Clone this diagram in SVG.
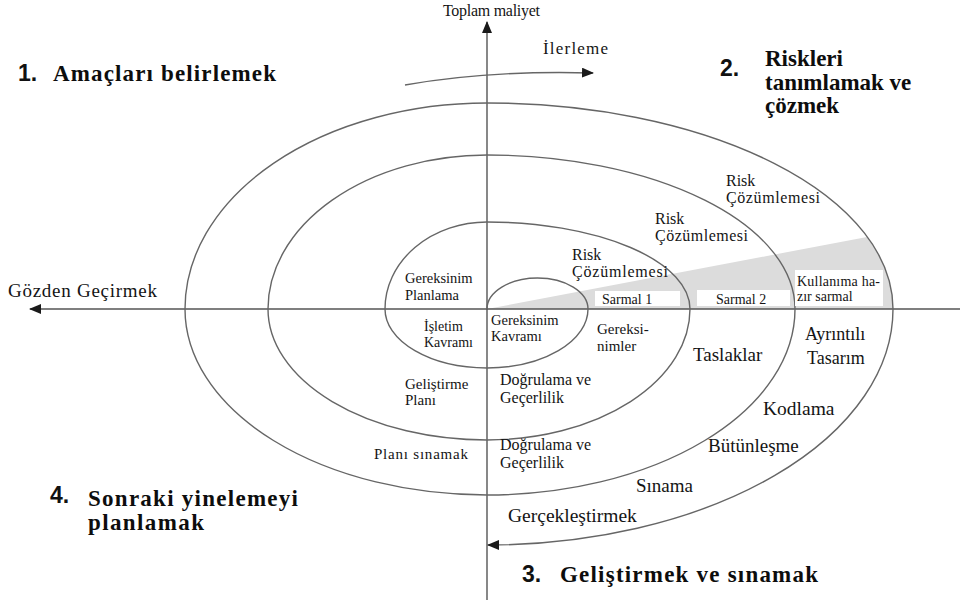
<svg xmlns="http://www.w3.org/2000/svg" width="961" height="605" viewBox="0 0 961 605">
  <defs>
    <marker id="tri" viewBox="0 0 12 10" refX="11" refY="5" markerWidth="12" markerHeight="10" markerUnits="userSpaceOnUse" orient="auto">
      <path d="M0,0 L12,5 L0,10 Z" fill="#1a1a1a"/>
    </marker>
    <style>
      text { font-family: "Liberation Serif", "Times New Roman", serif; fill: #141414; }
      .ax { stroke: #555; stroke-width: 1.4; fill: none; }
      .sp { stroke: #666; stroke-width: 1.4; fill: none; }
      .head { font-weight: bold; font-size: 23px; fill: #0d0d0d; }
      .num { font-family: "Liberation Sans", Arial, sans-serif; font-weight: bold; font-size: 23px; fill: #111; }
      .box { fill: #fff; }
    </style>
  </defs>
  <rect width="961" height="605" fill="#fff"/>

  <!-- shaded release wedge -->
  <path d="M487,309 L867,237 A406,206 0 0,1 893,309 Z" fill="#dcdcdc"/>

  <!-- axes -->
  <g id="axes">
    <line class="ax" x1="487" y1="600" x2="487" y2="22" marker-end="url(#tri)"/>
    <line class="ax" x1="960" y1="309" x2="30" y2="309" marker-end="url(#tri)"/>
  </g>

  <!-- spiral and progress arrow -->
  <g id="connectors">
    <path class="sp" d="M487,309 A50.5,31 0 0,1 588,309
      A101,59 0 0,1 487,368
      A102,59 0 0,1 385,309
      A102,87 0 0,1 487,222
      A203,87 0 0,1 690,309
      A203,131 0 0,1 487,440
      A219,131 0 0,1 268,309
      A219,154 0 0,1 487,155
      A308,154 0 0,1 795,309
      A308,186 0 0,1 487,495
      A302,186 0 0,1 185,309
      A302,206 0 0,1 487,103
      A406,206 0 0,1 893,309
      A406,236 0 0,1 488,545" marker-end="url(#tri)"/>
    <path class="sp" d="M405,85 Q490,70 593,73" marker-end="url(#tri)"/>
  </g>

  <!-- spiral labels on the wedge -->
  <g id="spiral1">
    <rect class="box" x="595" y="291" width="85" height="15"/>
    <text x="602" y="304" font-size="14">Sarmal 1</text>
  </g>
  <g id="spiral2">
    <rect class="box" x="697" y="290" width="93" height="16"/>
    <text x="716" y="304" font-size="14">Sarmal 2</text>
  </g>
  <g id="release">
    <rect class="box" x="795" y="270" width="88" height="36"/>
    <text x="797" y="286" font-size="14" textLength="83">Kullanıma ha-</text>
    <text x="797" y="301" font-size="14">zır sarmal</text>
  </g>

  <!-- axis titles -->
  <g id="axis-labels">
    <text x="443" y="16" font-size="16" textLength="97">Toplam maliyet</text>
    <text x="543" y="54" font-size="17" textLength="65">İlerleme</text>
    <text x="8" y="297" font-size="19" textLength="149">Gözden Geçirmek</text>
  </g>

  <!-- quadrant titles -->
  <g id="q1">
    <text class="num" x="18" y="81">1.</text>
    <text class="head" x="53" y="81" textLength="223">Amaçları belirlemek</text>
  </g>
  <g id="q2">
    <text class="num" x="720" y="76">2.</text>
    <text class="head" x="765" y="66" font-size="21">Riskleri</text>
    <text class="head" x="765" y="90" font-size="21">tanımlamak ve</text>
    <text class="head" x="765" y="113" font-size="21">çözmek</text>
  </g>
  <g id="q3">
    <text class="num" x="522" y="582">3.</text>
    <text class="head" x="560" y="582" textLength="258">Geliştirmek ve sınamak</text>
  </g>
  <g id="q4">
    <text class="num" x="50" y="503">4.</text>
    <text class="head" x="88" y="506" textLength="210">Sonraki yinelemeyi</text>
    <text class="head" x="88" y="530" textLength="116">planlamak</text>
  </g>

  <!-- phase labels -->
  <g id="risk1" font-size="16"><text x="572" y="260">Risk</text><text x="572" y="277" textLength="96">Çözümlemesi</text></g>
  <g id="risk2" font-size="16"><text x="655" y="224">Risk</text><text x="655" y="241" textLength="93">Çözümlemesi</text></g>
  <g id="risk3" font-size="16"><text x="726" y="186">Risk</text><text x="726" y="203" textLength="94">Çözümlemesi</text></g>
  <g id="req-plan" font-size="14.5"><text x="405" y="283">Gereksinim</text><text x="405" y="300">Planlama</text></g>
  <g id="ops-concept" font-size="14"><text x="424" y="331">İşletim</text><text x="424" y="347">Kavramı</text></g>
  <g id="req-concept" font-size="14.5"><text x="491" y="325">Gereksinim</text><text x="491" y="341">Kavramı</text></g>
  <g id="requirements" font-size="15"><text x="597" y="334">Gereksi-</text><text x="597" y="351">nimler</text></g>
  <g id="drafts" font-size="19"><text x="693" y="361">Taslaklar</text></g>
  <g id="detail" font-size="18"><text x="805" y="340">Ayrıntılı</text><text x="807" y="364">Tasarım</text></g>
  <g id="dev-plan" font-size="15"><text x="405" y="389">Geliştirme</text><text x="405" y="405">Planı</text></g>
  <g id="vv1" font-size="16"><text x="500" y="385">Doğrulama ve</text><text x="500" y="403">Geçerlilik</text></g>
  <g id="coding" font-size="19.5"><text x="763" y="415">Kodlama</text></g>
  <g id="test-plan" font-size="15"><text x="374" y="459" textLength="94">Planı sınamak</text></g>
  <g id="vv2" font-size="16"><text x="500" y="450">Doğrulama ve</text><text x="500" y="468">Geçerlilik</text></g>
  <g id="integration" font-size="19"><text x="708" y="452">Bütünleşme</text></g>
  <g id="testing" font-size="19"><text x="636" y="492">Sınama</text></g>
  <g id="implementation" font-size="19.5"><text x="508" y="522">Gerçekleştirmek</text></g>
</svg>
